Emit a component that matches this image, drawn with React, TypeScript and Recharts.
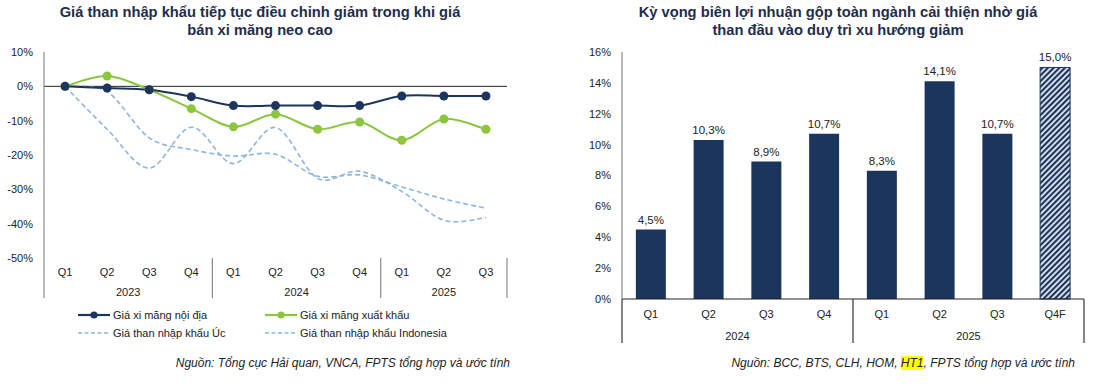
import React from 'react'
import {
  LineChart,
  Line,
  BarChart,
  Bar,
  Cell,
  LabelList,
  XAxis,
  YAxis,
  ReferenceLine,
} from 'recharts'

// left chart: % change vs Q1 2023
const lineQuarters = ['Q1', 'Q2', 'Q3', 'Q4', 'Q1', 'Q2', 'Q3', 'Q4', 'Q1', 'Q2', 'Q3']
const lineYears = ['2023', '2023', '2023', '2023', '2024', '2024', '2024', '2024', '2025', '2025', '2025']
const domesticCement = [0, -0.5, -1, -3, -5.6, -5.6, -5.6, -5.6, -2.8, -2.8, -2.8]
const exportCement = [0, 3, -1, -6.5, -11.8, -8.1, -12.5, -10.4, -15.7, -9.5, -12.5]
const ausCoal = [0, -12.5, -23.8, -11.9, -22.5, -12, -26.8, -24.7, -30.6, -39, -38.3]
const indoCoal = [0, -1.6, -15, -18.4, -20.3, -19.8, -26.2, -25.8, -29.3, -32.8, -35.5]
const lineTicks = [10, 0, -10, -20, -30, -40, -50]

// right chart: gross margin
const barQuarters = ['Q1', 'Q2', 'Q3', 'Q4', 'Q1', 'Q2', 'Q3', 'Q4F']
const barYears = ['2024', '2024', '2024', '2024', '2025', '2025', '2025', '2025']
const grossMargin = [4.5, 10.3, 8.9, 10.7, 8.3, 14.1, 10.7, 15.0]
const barTicks = [0, 2, 4, 6, 8, 10, 12, 14, 16]

const lineData = lineQuarters.map((q, i) => ({
  key: `${q} ${lineYears[i]}`,
  domestic: domesticCement[i],
  export: exportCement[i],
  aus: ausCoal[i],
  indo: indoCoal[i],
}))

const barData = barQuarters.map((q, i) => ({
  key: `${q} ${barYears[i]}`,
  value: grossMargin[i],
}))

const FONT = '"Liberation Sans", Arial, sans-serif'
const NAVY = '#1b355c'
const GREEN = '#8cc63f'
const DASH = '#8fb5db'
const TITLE = '#1f2d4b'
const AXIS_GREY = '#8a8a8a'

// excel-like smoothed line (catmull-rom through every point)
const smooth = (context: any) => {
  let pts: [number, number][] = []
  return {
    areaStart() {},
    areaEnd() {},
    lineStart() {
      pts = []
    },
    point(x: number, y: number) {
      pts.push([+x, +y])
    },
    lineEnd() {
      if (!pts.length) return
      context.moveTo(pts[0][0], pts[0][1])
      for (let i = 0; i < pts.length - 1; i++) {
        const p0 = pts[i - 1] || pts[i]
        const p1 = pts[i]
        const p2 = pts[i + 1]
        const p3 = pts[i + 2] || p2
        context.bezierCurveTo(
          p1[0] + (p2[0] - p0[0]) / 6,
          p1[1] + (p2[1] - p0[1]) / 6,
          p2[0] - (p3[0] - p1[0]) / 6,
          p2[1] - (p3[1] - p1[1]) / 6,
          p2[0],
          p2[1]
        )
      }
    },
  }
}

function makeGroupTick(quarters: string[], years: string[], band: number, qDy: number, yDy: number, sepLen: number, sepColor: string) {
  return (props: any) => {
    const { x, y, index } = props
    const start = years.indexOf(years[index])
    const count = years.filter((yr) => yr === years[index]).length
    const isFirst = start === index
    const isLast = index === years.length - 1
    return (
      <g>
        <text x={x} y={y + qDy} textAnchor="middle" fontSize={11} fill="#222" fontFamily={FONT}>
          {quarters[index]}
        </text>
        {isFirst && (
          <>
            <line x1={x - band / 2} x2={x - band / 2} y1={y} y2={y + sepLen} stroke={sepColor} strokeWidth={1.2} />
            <text
              x={x + ((count - 1) / 2) * band}
              y={y + yDy}
              textAnchor="middle"
              fontSize={11}
              fill="#222"
              fontFamily={FONT}
            >
              {years[index]}
            </text>
          </>
        )}
        {isLast && <line x1={x + band / 2} x2={x + band / 2} y1={y} y2={y + sepLen} stroke={sepColor} strokeWidth={1.2} />}
      </g>
    )
  }
}

const titleStyle: React.CSSProperties = {
  position: 'absolute',
  top: 4,
  textAlign: 'center',
  fontFamily: FONT,
  fontWeight: 'bold',
  fontSize: 14.7,
  lineHeight: '17.5px',
  color: TITLE,
}

const sourceStyle: React.CSSProperties = {
  position: 'absolute',
  top: 356,
  fontFamily: FONT,
  fontStyle: 'italic',
  fontSize: 12,
  color: '#222',
  whiteSpace: 'nowrap',
}

function LegendItem({ color, dashed, label }: { color: string; dashed?: boolean; label: string }) {
  return (
    <div style={{ display: 'flex', alignItems: 'center', height: 18 }}>
      <svg width={34} height={10} style={{ marginRight: 2 }}>
        <line x1={1} x2={33} y1={5} y2={5} stroke={color} strokeWidth={dashed ? 1.6 : 2.2} strokeDasharray={dashed ? '4 2.5' : undefined} />
        {!dashed && <circle cx={17} cy={5} r={3.6} fill={color} />}
      </svg>
      <span style={{ fontFamily: FONT, fontSize: 11, color: '#222', whiteSpace: 'nowrap' }}>{label}</span>
    </div>
  )
}

const LEFT_W = 520
const LEFT_PLOT = LEFT_W - 44 - 13
const LEFT_BAND = LEFT_PLOT / lineQuarters.length
const RIGHT_W = 536
const RIGHT_PLOT = RIGHT_W - 62 - 12

const lineTick = makeGroupTick(lineQuarters, lineYears, LEFT_BAND, 18, 38, 40, AXIS_GREY)
const barTick = makeGroupTick(barQuarters, barYears, RIGHT_PLOT / barQuarters.length, 19, 41, 44, '#333')

export default function App() {
  return (
    <div style={{ position: 'absolute', left: 0, top: 0, width: 1096, height: 384, background: '#fff', overflow: 'hidden' }}>
      <svg width={0} height={0} style={{ position: 'absolute' }}>
        <defs>
          <pattern id="hatch" width={4} height={4} patternUnits="userSpaceOnUse" patternTransform="rotate(45)">
            <rect width={4} height={4} fill="#e9edf3" />
            <rect width={2.2} height={4} fill={NAVY} />
          </pattern>
        </defs>
      </svg>

      <div style={{ ...titleStyle, left: 0, width: 520 }}>
        Giá than nhập khẩu tiếp tục điều chỉnh giảm trong khi giá
        <br />
        bán xi măng neo cao
      </div>
      <div style={{ ...titleStyle, left: 560, width: 556 }}>
        Kỳ vọng biên lợi nhuận gộp toàn ngành cải thiện nhờ giá
        <br />
        than đầu vào duy trì xu hướng giảm
      </div>

      <div style={{ position: 'absolute', left: 0, top: 0 }}>
        <LineChart width={LEFT_W} height={384} data={lineData} margin={{ top: 52, right: 13, bottom: 81, left: 0 }}>
          <XAxis
            dataKey="key"
            axisLine={false}
            tickLine={false}
            tickSize={0}
            tickMargin={0}
            height={45}
            interval={0}
            padding={{ left: LEFT_BAND / 2, right: LEFT_BAND / 2 }}
            tick={lineTick}
          />
          <YAxis
            domain={[-50, 10]}
            ticks={lineTicks}
            width={44}
            tickSize={0}
            tickMargin={11}
            tickLine={false}
            axisLine={{ stroke: AXIS_GREY, strokeWidth: 1.2 }}
            tick={{ fontSize: 11, fill: '#222', fontFamily: FONT }}
            tickFormatter={(v) => `${v}%`}
            allowDataOverflow
          />
          <ReferenceLine y={0} stroke="#222" strokeWidth={1} />
          <Line dataKey="aus" type={smooth as any} stroke={DASH} strokeWidth={1.6} strokeDasharray="5 3" dot={false} isAnimationActive={false} />
          <Line dataKey="indo" type={smooth as any} stroke={DASH} strokeWidth={1.6} strokeDasharray="5 3" dot={false} isAnimationActive={false} />
          <Line
            dataKey="export"
            type={smooth as any}
            stroke={GREEN}
            strokeWidth={2}
            dot={{ r: 4.5, fill: GREEN, stroke: GREEN, strokeWidth: 0 }}
            isAnimationActive={false}
          />
          <Line
            dataKey="domestic"
            type={smooth as any}
            stroke={NAVY}
            strokeWidth={2}
            dot={{ r: 4.5, fill: NAVY, stroke: NAVY, strokeWidth: 0 }}
            isAnimationActive={false}
          />
        </LineChart>
      </div>

      <div style={{ position: 'absolute', left: 77, top: 306 }}>
        <LegendItem color={NAVY} label="Giá xi măng nội địa" />
        <LegendItem color={DASH} dashed label="Giá than nhập khẩu Úc" />
      </div>
      <div style={{ position: 'absolute', left: 264, top: 306 }}>
        <LegendItem color={GREEN} label="Giá xi măng xuất khẩu" />
        <LegendItem color={DASH} dashed label="Giá than nhập khẩu Indonesia" />
      </div>

      <div style={{ position: 'absolute', left: 560, top: 0 }}>
        <BarChart width={RIGHT_W} height={384} data={barData} margin={{ top: 52, right: 12, bottom: 40, left: 0 }} barCategoryGap="24%">
          <XAxis
            dataKey="key"
            axisLine={{ stroke: '#222', strokeWidth: 1 }}
            tickLine={false}
            tickSize={0}
            tickMargin={0}
            height={45}
            interval={0}
            tick={barTick}
          />
          <YAxis
            domain={[0, 16]}
            ticks={barTicks}
            width={62}
            tickSize={0}
            tickMargin={11}
            tickLine={false}
            axisLine={{ stroke: AXIS_GREY, strokeWidth: 1.2 }}
            tick={{ fontSize: 11, fill: '#222', fontFamily: FONT }}
            tickFormatter={(v) => `${v}%`}
          />
          <Bar dataKey="value" isAnimationActive={false}>
            {barData.map((d, i) => (
              <Cell
                key={d.key}
                fill={i === barData.length - 1 ? 'url(#hatch)' : NAVY}
                stroke={i === barData.length - 1 ? NAVY : 'none'}
                strokeWidth={1}
              />
            ))}
            <LabelList
              dataKey="value"
              position="top"
              offset={6}
              fontSize={11.5}
              fill="#222"
              fontFamily={FONT}
              formatter={(v: any) => `${Number(v).toFixed(1).replace('.', ',')}%`}
            />
          </Bar>
        </BarChart>
      </div>

      <div style={{ ...sourceStyle, right: 1096 - 510 }}>Nguồn: Tổng cục Hải quan, VNCA, FPTS tổng hợp và ước tính</div>
      <div style={{ ...sourceStyle, right: 1096 - 1075 }}>
        Nguồn: BCC, BTS, CLH, HOM, <span style={{ background: '#ffff00' }}>HT1</span>, FPTS tổng hợp và ước tính
      </div>
    </div>
  )
}
